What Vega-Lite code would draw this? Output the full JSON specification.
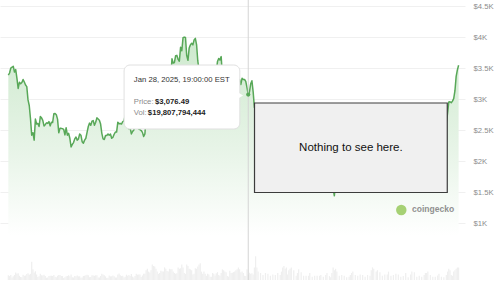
{
"$schema":"https://vega.github.io/schema/vega-lite/v6.json",
"width":465,"height":280,
"autosize":{"type":"none"},
"padding":{"left":0,"top":0,"right":35,"bottom":18},
"background":"#ffffff",
"config":{"view":{"stroke":null},"font":"Liberation Sans"},
"datasets":{
"eth":[
{"d":"2024-07-18","p":3390,"v":17},{"d":"2024-07-19","p":3425,"v":14},{"d":"2024-07-20","p":3505,"v":18},{"d":"2024-07-21","p":3518,"v":9},{"d":"2024-07-22","p":3535,"v":13},{"d":"2024-07-23","p":3440,"v":18},{"d":"2024-07-24","p":3480,"v":27},{"d":"2024-07-25","p":3337,"v":22},{"d":"2024-07-26","p":3175,"v":24},{"d":"2024-07-27","p":3275,"v":15},{"d":"2024-07-28","p":3250,"v":11},{"d":"2024-07-29","p":3270,"v":10},{"d":"2024-07-30","p":3320,"v":19},{"d":"2024-07-31","p":3280,"v":15},
{"d":"2024-08-01","p":3230,"v":16},{"d":"2024-08-02","p":3205,"v":21},{"d":"2024-08-03","p":2990,"v":24},{"d":"2024-08-04","p":2900,"v":19},{"d":"2024-08-05","p":2690,"v":22},{"d":"2024-08-06","p":2420,"v":65},{"d":"2024-08-07","p":2460,"v":38},{"d":"2024-08-08","p":2340,"v":27},{"d":"2024-08-09","p":2680,"v":31},{"d":"2024-08-10","p":2600,"v":20},{"d":"2024-08-11","p":2610,"v":11},{"d":"2024-08-12","p":2560,"v":13},{"d":"2024-08-13","p":2720,"v":22},{"d":"2024-08-14","p":2700,"v":17},{"d":"2024-08-15","p":2660,"v":16},{"d":"2024-08-16","p":2570,"v":19},{"d":"2024-08-17","p":2590,"v":14},{"d":"2024-08-18","p":2620,"v":8},{"d":"2024-08-19","p":2610,"v":9},{"d":"2024-08-20","p":2640,"v":14},{"d":"2024-08-21","p":2570,"v":15},{"d":"2024-08-22","p":2630,"v":15},{"d":"2024-08-23","p":2625,"v":14},{"d":"2024-08-24","p":2765,"v":18},{"d":"2024-08-25","p":2770,"v":12},{"d":"2024-08-26","p":2750,"v":10},{"d":"2024-08-27","p":2680,"v":15},{"d":"2024-08-28","p":2460,"v":18},{"d":"2024-08-29","p":2530,"v":18},{"d":"2024-08-30","p":2530,"v":14},{"d":"2024-08-31","p":2525,"v":14},
{"d":"2024-09-01","p":2515,"v":7},{"d":"2024-09-02","p":2425,"v":10},{"d":"2024-09-03","p":2540,"v":13},{"d":"2024-09-04","p":2420,"v":14},{"d":"2024-09-05","p":2450,"v":17},{"d":"2024-09-06","p":2370,"v":13},{"d":"2024-09-07","p":2230,"v":20},{"d":"2024-09-08","p":2270,"v":10},{"d":"2024-09-09","p":2300,"v":9},{"d":"2024-09-10","p":2360,"v":14},{"d":"2024-09-11","p":2390,"v":13},{"d":"2024-09-12","p":2340,"v":16},{"d":"2024-09-13","p":2360,"v":13},{"d":"2024-09-14","p":2440,"v":13},{"d":"2024-09-15","p":2420,"v":8},{"d":"2024-09-16","p":2315,"v":9},{"d":"2024-09-17","p":2290,"v":14},{"d":"2024-09-18","p":2340,"v":15},{"d":"2024-09-19","p":2370,"v":17},{"d":"2024-09-20","p":2465,"v":19},{"d":"2024-09-21","p":2560,"v":17},{"d":"2024-09-22","p":2615,"v":10},{"d":"2024-09-23","p":2580,"v":11},{"d":"2024-09-24","p":2645,"v":17},{"d":"2024-09-25","p":2655,"v":16},{"d":"2024-09-26","p":2580,"v":15},{"d":"2024-09-27","p":2630,"v":17},{"d":"2024-09-28","p":2700,"v":17},{"d":"2024-09-29","p":2680,"v":9},{"d":"2024-09-30","p":2660,"v":9},
{"d":"2024-10-01","p":2600,"v":14},{"d":"2024-10-02","p":2450,"v":22},{"d":"2024-10-03","p":2360,"v":20},{"d":"2024-10-04","p":2350,"v":17},{"d":"2024-10-05","p":2415,"v":13},{"d":"2024-10-06","p":2415,"v":7},{"d":"2024-10-07","p":2440,"v":8},{"d":"2024-10-08","p":2420,"v":16},{"d":"2024-10-09","p":2440,"v":13},{"d":"2024-10-10","p":2370,"v":13},{"d":"2024-10-11","p":2385,"v":16},{"d":"2024-10-12","p":2435,"v":13},{"d":"2024-10-13","p":2470,"v":9},{"d":"2024-10-14","p":2470,"v":9},{"d":"2024-10-15","p":2630,"v":20},{"d":"2024-10-16","p":2605,"v":23},{"d":"2024-10-17","p":2610,"v":17},{"d":"2024-10-18","p":2600,"v":14},{"d":"2024-10-19","p":2640,"v":15},{"d":"2024-10-20","p":2650,"v":9},{"d":"2024-10-21","p":2745,"v":12},{"d":"2024-10-22","p":2670,"v":19},{"d":"2024-10-23","p":2620,"v":15},{"d":"2024-10-24","p":2525,"v":18},{"d":"2024-10-25","p":2540,"v":14},{"d":"2024-10-26","p":2440,"v":21},{"d":"2024-10-27","p":2480,"v":12},{"d":"2024-10-28","p":2505,"v":9},{"d":"2024-10-29","p":2570,"v":14},{"d":"2024-10-30","p":2640,"v":22},{"d":"2024-10-31","p":2660,"v":19},
{"d":"2024-11-01","p":2520,"v":20},{"d":"2024-11-02","p":2510,"v":20},{"d":"2024-11-03","p":2495,"v":11},{"d":"2024-11-04","p":2465,"v":16},{"d":"2024-11-05","p":2400,"v":22},{"d":"2024-11-06","p":2440,"v":22},{"d":"2024-11-07","p":2720,"v":35},{"d":"2024-11-08","p":2890,"v":40},{"d":"2024-11-09","p":2960,"v":30},{"d":"2024-11-10","p":3130,"v":27},{"d":"2024-11-11","p":3180,"v":35},{"d":"2024-11-12","p":3370,"v":55},{"d":"2024-11-13","p":3250,"v":50},{"d":"2024-11-14","p":3190,"v":48},{"d":"2024-11-15","p":3060,"v":40},{"d":"2024-11-16","p":3110,"v":30},{"d":"2024-11-17","p":3130,"v":22},{"d":"2024-11-18","p":3075,"v":25},{"d":"2024-11-19","p":3210,"v":33},{"d":"2024-11-20","p":3110,"v":30},{"d":"2024-11-21","p":3070,"v":30},{"d":"2024-11-22","p":3355,"v":45},{"d":"2024-11-23","p":3330,"v":40},{"d":"2024-11-24","p":3395,"v":32},{"d":"2024-11-25","p":3360,"v":30},{"d":"2024-11-26","p":3415,"v":40},{"d":"2024-11-27","p":3325,"v":38},{"d":"2024-11-28","p":3655,"v":38},{"d":"2024-11-29","p":3585,"v":30},{"d":"2024-11-30","p":3595,"v":25},
{"d":"2024-12-01","p":3705,"v":22},{"d":"2024-12-02","p":3710,"v":24},{"d":"2024-12-03","p":3645,"v":45},{"d":"2024-12-04","p":3615,"v":40},{"d":"2024-12-05","p":3840,"v":42},{"d":"2024-12-06","p":3785,"v":55},{"d":"2024-12-07","p":3995,"v":45},{"d":"2024-12-08","p":4005,"v":25},{"d":"2024-12-09","p":4000,"v":22},{"d":"2024-12-10","p":3705,"v":55},{"d":"2024-12-11","p":3630,"v":50},{"d":"2024-12-12","p":3830,"v":40},{"d":"2024-12-13","p":3880,"v":38},{"d":"2024-12-14","p":3905,"v":35},{"d":"2024-12-15","p":3880,"v":20},{"d":"2024-12-16","p":3960,"v":22},{"d":"2024-12-17","p":3985,"v":42},{"d":"2024-12-18","p":3885,"v":40},{"d":"2024-12-19","p":3620,"v":48},{"d":"2024-12-20","p":3470,"v":55},{"d":"2024-12-21","p":3470,"v":60},{"d":"2024-12-22","p":3330,"v":30},{"d":"2024-12-23","p":3280,"v":22},{"d":"2024-12-24","p":3420,"v":30},{"d":"2024-12-25","p":3490,"v":22},{"d":"2024-12-26","p":3490,"v":15},{"d":"2024-12-27","p":3330,"v":22},{"d":"2024-12-28","p":3330,"v":20},{"d":"2024-12-29","p":3400,"v":12},{"d":"2024-12-30","p":3350,"v":12},{"d":"2024-12-31","p":3360,"v":25},
{"d":"2025-01-01","p":3335,"v":22},{"d":"2025-01-02","p":3360,"v":16},{"d":"2025-01-03","p":3450,"v":24},{"d":"2025-01-04","p":3610,"v":28},{"d":"2025-01-05","p":3660,"v":18},{"d":"2025-01-06","p":3635,"v":15},{"d":"2025-01-07","p":3690,"v":25},{"d":"2025-01-08","p":3380,"v":38},{"d":"2025-01-09","p":3325,"v":35},{"d":"2025-01-10","p":3220,"v":30},{"d":"2025-01-11","p":3265,"v":28},{"d":"2025-01-12","p":3285,"v":14},{"d":"2025-01-13","p":3265,"v":12},{"d":"2025-01-14","p":3140,"v":33},{"d":"2025-01-15","p":3225,"v":25},{"d":"2025-01-16","p":3450,"v":26},{"d":"2025-01-17","p":3310,"v":28},{"d":"2025-01-18","p":3470,"v":30},{"d":"2025-01-19","p":3310,"v":35},{"d":"2025-01-20","p":3220,"v":38},{"d":"2025-01-21","p":3280,"v":45},{"d":"2025-01-22","p":3320,"v":38},{"d":"2025-01-23","p":3240,"v":28},{"d":"2025-01-24","p":3340,"v":30},{"d":"2025-01-25","p":3320,"v":25},{"d":"2025-01-26","p":3320,"v":15},{"d":"2025-01-27","p":3290,"v":14},{"d":"2025-01-28","p":3190,"v":38},{"d":"2025-01-29","p":3076.49,"v":19.8},{"d":"2025-01-30","p":3120,"v":26},{"d":"2025-01-31","p":3250,"v":22},
{"d":"2025-02-01","p":3300,"v":24},{"d":"2025-02-02","p":3120,"v":20},{"d":"2025-02-03","p":2870,"v":45},{"d":"2025-02-04","p":2880,"v":85},{"d":"2025-02-05","p":2730,"v":45},{"d":"2025-02-06","p":2780,"v":30},{"d":"2025-02-08","p":2630,"v":25},{"d":"2025-02-10","p":2630,"v":18},{"d":"2025-02-12","p":2600,"v":25},{"d":"2025-02-14","p":2675,"v":22},{"d":"2025-02-16","p":2690,"v":15},{"d":"2025-02-18","p":2745,"v":20},{"d":"2025-02-20","p":2720,"v":18},{"d":"2025-02-22","p":2660,"v":25},{"d":"2025-02-24","p":2815,"v":18},{"d":"2025-02-25","p":2510,"v":30},{"d":"2025-02-26","p":2495,"v":45},{"d":"2025-02-27","p":2340,"v":50},{"d":"2025-02-28","p":2305,"v":40},
{"d":"2025-03-01","p":2235,"v":45},{"d":"2025-03-02","p":2215,"v":20},{"d":"2025-03-03","p":2520,"v":35},{"d":"2025-03-04","p":2150,"v":40},{"d":"2025-03-05","p":2170,"v":45},{"d":"2025-03-07","p":2140,"v":35},{"d":"2025-03-09","p":2205,"v":15},{"d":"2025-03-10","p":2020,"v":25},{"d":"2025-03-11","p":1865,"v":38},{"d":"2025-03-13","p":1910,"v":28},{"d":"2025-03-15","p":1910,"v":15},{"d":"2025-03-17","p":1890,"v":15},{"d":"2025-03-19","p":1930,"v":15},{"d":"2025-03-20","p":2055,"v":25},{"d":"2025-03-22","p":1965,"v":12},{"d":"2025-03-24","p":2085,"v":15},{"d":"2025-03-26","p":2065,"v":15},{"d":"2025-03-28","p":2005,"v":15},{"d":"2025-03-29","p":1895,"v":18},{"d":"2025-03-31","p":1805,"v":12},
{"d":"2025-04-02","p":1905,"v":18},{"d":"2025-04-03","p":1795,"v":25},{"d":"2025-04-05","p":1805,"v":14},{"d":"2025-04-06","p":1805,"v":10},{"d":"2025-04-07","p":1580,"v":25},{"d":"2025-04-08","p":1555,"v":45},{"d":"2025-04-09","p":1440,"v":35},{"d":"2025-04-10","p":1670,"v":40},{"d":"2025-04-11","p":1520,"v":30},{"d":"2025-04-13","p":1645,"v":15},{"d":"2025-04-15","p":1625,"v":18},{"d":"2025-04-17","p":1575,"v":15},{"d":"2025-04-19","p":1590,"v":10},{"d":"2025-04-21","p":1590,"v":12},{"d":"2025-04-22","p":1575,"v":18},{"d":"2025-04-23","p":1755,"v":25},{"d":"2025-04-24","p":1795,"v":30},{"d":"2025-04-26","p":1785,"v":18},{"d":"2025-04-28","p":1790,"v":15},{"d":"2025-04-30","p":1800,"v":20},
{"d":"2025-05-02","p":1840,"v":18},{"d":"2025-05-04","p":1835,"v":12},{"d":"2025-05-06","p":1815,"v":18},{"d":"2025-05-08","p":1810,"v":15},{"d":"2025-05-09","p":2205,"v":35},{"d":"2025-05-10","p":2345,"v":45},{"d":"2025-05-11","p":2580,"v":40},{"d":"2025-05-13","p":2495,"v":30},{"d":"2025-05-14","p":2680,"v":35},{"d":"2025-05-16","p":2545,"v":28},{"d":"2025-05-18","p":2480,"v":15},{"d":"2025-05-20","p":2525,"v":20},{"d":"2025-05-22","p":2555,"v":20},{"d":"2025-05-23","p":2665,"v":30},{"d":"2025-05-25","p":2530,"v":15},{"d":"2025-05-27","p":2565,"v":18},{"d":"2025-05-29","p":2680,"v":22},{"d":"2025-05-31","p":2530,"v":20},
{"d":"2025-06-02","p":2510,"v":12},{"d":"2025-06-04","p":2590,"v":14},{"d":"2025-06-06","p":2420,"v":25},{"d":"2025-06-08","p":2525,"v":10},{"d":"2025-06-10","p":2680,"v":20},{"d":"2025-06-11","p":2815,"v":30},{"d":"2025-06-13","p":2645,"v":28},{"d":"2025-06-15","p":2525,"v":12},{"d":"2025-06-17","p":2550,"v":15},{"d":"2025-06-19","p":2525,"v":12},{"d":"2025-06-21","p":2410,"v":18},{"d":"2025-06-22","p":2295,"v":25},{"d":"2025-06-23","p":2230,"v":25},{"d":"2025-06-24","p":2410,"v":30},{"d":"2025-06-26","p":2420,"v":18},{"d":"2025-06-28","p":2425,"v":12},{"d":"2025-06-30","p":2500,"v":12},
{"d":"2025-07-02","p":2405,"v":16},{"d":"2025-07-03","p":2570,"v":22},{"d":"2025-07-05","p":2510,"v":12},{"d":"2025-07-07","p":2570,"v":10},{"d":"2025-07-09","p":2615,"v":18},{"d":"2025-07-10","p":2770,"v":30},{"d":"2025-07-11","p":2955,"v":40},{"d":"2025-07-12","p":2960,"v":35},{"d":"2025-07-13","p":2945,"v":18},{"d":"2025-07-14","p":2970,"v":15},{"d":"2025-07-15","p":3010,"v":30},{"d":"2025-07-16","p":3135,"v":35},{"d":"2025-07-17","p":3370,"v":40},{"d":"2025-07-18","p":3475,"v":45},{"d":"2025-07-19","p":3550,"v":45}
]},
"layer":[
{"data":{"name":"eth"},
 "mark":{"type":"area","clip":true,"color":{"gradient":"linear","x1":0,"y1":0,"x2":0,"y2":1,"stops":[{"offset":0,"color":"#cde9cd"},{"offset":0.45,"color":"#e7f4e7"},{"offset":0.8,"color":"#ffffff"}]}},
 "encoding":{
  "x":{"field":"d","type":"temporal","scale":{"type":"utc","domain":[{"year":2024,"month":7,"date":15,"hours":7,"utc":true},{"year":2025,"month":7,"date":20,"hours":3,"utc":true}]},
   "axis":{"title":null,"domain":false,"ticks":false,"grid":false,"format":"%b '%y","formatType":"utc","labelFontSize":7.7,"labelColor":"#8c8c8c","labelPadding":5,"labelFont":"Liberation Sans",
    "values":[{"year":2024,"month":8,"date":1,"utc":true},{"year":2024,"month":9,"date":1,"utc":true},{"year":2024,"month":10,"date":1,"utc":true},{"year":2024,"month":11,"date":1,"utc":true},{"year":2024,"month":12,"date":1,"utc":true},{"year":2025,"month":1,"date":1,"utc":true},{"year":2025,"month":2,"date":1,"utc":true},{"year":2025,"month":3,"date":1,"utc":true},{"year":2025,"month":4,"date":1,"utc":true},{"year":2025,"month":5,"date":1,"utc":true},{"year":2025,"month":6,"date":1,"utc":true},{"year":2025,"month":7,"date":1,"utc":true}]}},
  "y":{"field":"p","type":"quantitative","scale":{"domain":[79,4605],"nice":false,"zero":false},
   "axis":{"title":null,"orient":"right","domain":false,"ticks":false,"grid":true,"gridColor":"#f0f0f0","gridWidth":1,"values":[1000,1500,2000,2500,3000,3500,4000,4500],"labelExpr":"'$' + (datum.value/1000) + 'K'","labelAlign":"left","labelPadding":8,"labelFontSize":7.7,"labelColor":"#8c8c8c","labelFont":"Liberation Sans"}}
 }},
{"data":{"name":"eth"},
 "mark":{"type":"bar","width":1.2,"color":"#efefef"},
 "encoding":{
  "x":{"field":"d","type":"temporal","axis":null},
  "y":{"field":"v","type":"quantitative","scale":{"domain":[0,1000]},"axis":null}
 }},
{"layer":[
 {"data":{"name":"eth"},
  "mark":{"type":"line","color":"#58a858","strokeWidth":1.5,"strokeJoin":"round","clip":true},
  "encoding":{
   "x":{"field":"d","type":"temporal","axis":null},
   "y":{"field":"p","type":"quantitative","scale":{"domain":[79,4605],"nice":false,"zero":false},"axis":null}
  }},
 {"data":{"values":[{"d":"2025-01-29T00:00:00Z"}]},
  "mark":{"type":"rule","color":"#d4d4d4","strokeWidth":1},
  "encoding":{"x":{"field":"d","type":"temporal","axis":null}}},
 {"data":{"values":[{"d":"2025-01-29T00:00:00Z","p":3076.49}]},
  "mark":{"type":"circle","color":"#58a858","size":18,"opacity":1},
  "encoding":{"x":{"field":"d","type":"temporal","axis":null},"y":{"field":"p","type":"quantitative","axis":null}}},
 {"data":{"values":[{"a":"2024-10-20T02:00:00Z","b":"2025-01-22T04:00:00Z","p1":3554,"p2":2520}]},
  "mark":{"type":"rect","fill":"#ffffff","stroke":"#e0e0e0","strokeWidth":1,"cornerRadius":6},
  "encoding":{"x":{"field":"a","type":"temporal","axis":null},"x2":{"field":"b"},"y":{"field":"p1","type":"quantitative","axis":null},"y2":{"field":"p2"}}},
 {"data":{"values":[{"d":"2025-01-22T23:00:00Z","p":3061}]},
  "mark":{"type":"point","shape":"triangle-right","filled":true,"color":"#ffffff","size":28,"opacity":1},
  "encoding":{"x":{"field":"d","type":"temporal","axis":null},"y":{"field":"p","type":"quantitative","axis":null}}},
 {"data":{"values":[{"t":"Jan 28, 2025, 19:00:00 EST","d":"2024-10-28T01:00:00Z","p":3312}]},
  "mark":{"type":"text","align":"left","baseline":"middle","font":"Liberation Sans","fontSize":7.7,"color":"#333333"},
  "encoding":{"x":{"field":"d","type":"temporal","axis":null},"y":{"field":"p","type":"quantitative","axis":null},"text":{"field":"t"}}},
 {"data":{"values":[{"t":"Price:","d":"2024-10-28T01:00:00Z","p":2961},{"t":"Vol:","d":"2024-10-28T01:00:00Z","p":2773}]},
  "mark":{"type":"text","align":"left","baseline":"middle","font":"Liberation Sans","fontSize":7.7,"color":"#8a8a8a"},
  "encoding":{"x":{"field":"d","type":"temporal","axis":null},"y":{"field":"p","type":"quantitative","axis":null},"text":{"field":"t"}}},
 {"data":{"values":[{"t":"$3,076.49","d":"2024-11-14T05:20:00Z","p":2961},{"t":"$19,807,794,444","d":"2024-11-08T09:50:00Z","p":2773}]},
  "mark":{"type":"text","align":"left","baseline":"middle","font":"Liberation Sans","fontSize":7.7,"fontWeight":"bold","color":"#222222"},
  "encoding":{"x":{"field":"d","type":"temporal","axis":null},"y":{"field":"p","type":"quantitative","axis":null},"text":{"field":"t"}}},
 {"data":{"values":[{"a":"2025-02-03T02:25:00Z","b":"2025-07-09T18:45:00Z","p1":2940,"p2":1493}]},
  "mark":{"type":"rect","fill":"#f0f0f0","stroke":"#3c3c3c","strokeWidth":1.2},
  "encoding":{"x":{"field":"a","type":"temporal","axis":null},"x2":{"field":"b"},"y":{"field":"p1","type":"quantitative","axis":null},"y2":{"field":"p2"}}},
 {"data":{"values":[{"t":"Nothing to see here.","d":"2025-04-22T10:36:00Z","p":2212}]},
  "mark":{"type":"text","align":"center","baseline":"middle","font":"Liberation Sans","fontSize":11.5,"color":"#111111"},
  "encoding":{"x":{"field":"d","type":"temporal","axis":null},"y":{"field":"p","type":"quantitative","axis":null},"text":{"field":"t"}}},
 {"data":{"values":[{"d":"2025-06-02T09:40:00Z","p":1210}]},
  "mark":{"type":"circle","color":"#9ccc65","size":110,"opacity":0.9},
  "encoding":{"x":{"field":"d","type":"temporal","axis":null},"y":{"field":"p","type":"quantitative","axis":null}}},
 {"data":{"values":[{"t":"coingecko","d":"2025-06-11T03:40:00Z","p":1226}]},
  "mark":{"type":"text","align":"left","baseline":"middle","font":"Liberation Sans","fontSize":8.5,"fontWeight":"bold","color":"#909090"},
  "encoding":{"x":{"field":"d","type":"temporal","axis":null},"y":{"field":"p","type":"quantitative","axis":null},"text":{"field":"t"}}}
]}
],
"resolve":{"scale":{"y":"independent"}}
}
